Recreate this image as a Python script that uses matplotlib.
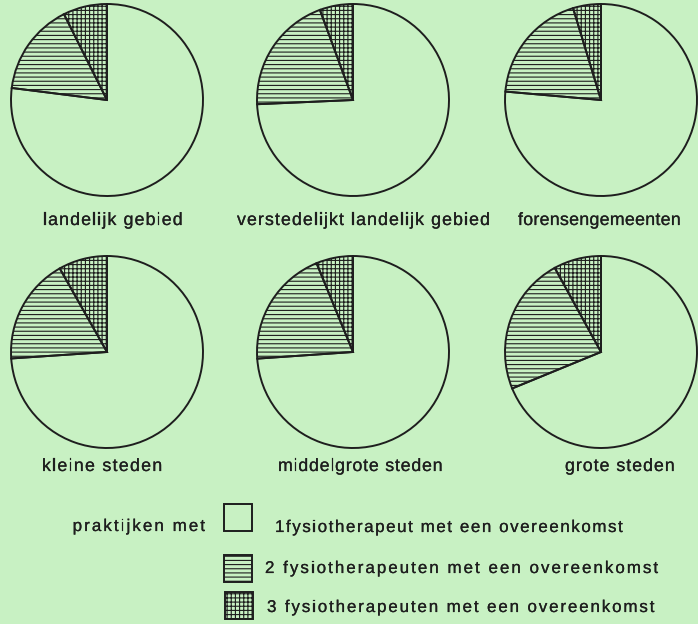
import matplotlib.pyplot as plt
import matplotlib.patheffects as pe
from matplotlib.patches import Rectangle
from matplotlib import font_manager
from matplotlib.font_manager import FontProperties
from matplotlib.ft2font import FT2Font

plt.rcParams['hatch.linewidth'] = 0.8
plt.rcParams['hatch.color'] = '#1e1e1e'

regios = ['landelijk gebied', 'verstedelijkt landelijk gebied', 'forensengemeenten',
          'kleine steden', 'middelgrote steden', 'grote steden']
# aandeel praktijken (%) naar aantal fysiotherapeuten met een overeenkomst
een_fysio = [77.0, 74.3, 76.4, 74.0, 73.9, 68.8]
twee_fysio = [15.6, 20.1, 18.9, 17.9, 19.9, 23.2]
drie_fysio = [7.4, 5.6, 4.7, 8.2, 6.2, 8.0]

legenda = ['1fysiotherapeut met een overeenkomst',
           '2 fysiotherapeuten met een overeenkomst',
           '3 fysiotherapeuten met een overeenkomst']

BG = '#c8f1c3'
INK = '#1e1e1e'
W, H = 698, 624
FONT = 'Liberation Sans'

fig = plt.figure(figsize=(W / 100, H / 100), dpi=100, facecolor=BG)

def px(x, y):
    return x / W, 1 - y / H

_ft = FT2Font(font_manager.findfont(FontProperties(family=FONT)))
# iets zwaardere letter
_dik = [pe.withStroke(linewidth=0.15, foreground=INK)]

def spaced(x, y, s, size, track, ha='left'):
    # letters een voor een zetten, met extra ruimte ertussen
    _ft.set_size(size, 100)
    adv = [_ft.load_char(ord(c)).linearHoriAdvance / 65536 for c in s]
    total = sum(adv) + track * (len(s) - 1)
    if ha == 'right':
        x -= total
    elif ha == 'center':
        x -= total / 2
    for c, a in zip(s, adv):
        fig.text(*px(x, y), c, ha='left', va='baseline', fontsize=size,
                 family=FONT, color=INK, path_effects=_dik)
        x += a + track

# middelpunten van de cirkels en plaats van de onderschriften (pixels)
centra = [(107, 100), (353, 100), (601, 100), (107, 352), (353, 352), (601, 352)]
tekst_pos = [(43, 225), (237, 225), (518, 225), (42, 471), (278, 471), (565, 471)]
tekst_track = [1.15, 1.1, 0.3, 1.3, 0.8, 1.0]
R = 96

for i, naam in enumerate(regios):
    cx, cy = centra[i]
    x0, y0 = px(cx - 100, cy + 100)
    ax = fig.add_axes([x0, y0, 200 / W, 200 / H])
    ax.set_facecolor('none')
    wedges, _ = ax.pie([een_fysio[i], twee_fysio[i], drie_fysio[i]],
                       startangle=90, counterclock=False,
                       colors=['none', 'none', 'none'],
                       wedgeprops=dict(edgecolor=INK, linewidth=1.4))
    wedges[1].set_hatch('----')
    wedges[2].set_hatch('++++')
    lim = 100 / R
    ax.set_xlim(-lim, lim)
    ax.set_ylim(-lim, lim)
    ax.set_aspect('equal')
    ax.axis('off')
    tx, ty = tekst_pos[i]
    spaced(tx, ty, naam, 12.8, tekst_track[i])

# legenda
LEG_SIZE = 12.2
spaced(205, 531, 'praktijken met', LEG_SIZE, 2.1, ha='right')
hatches = [None, '----', '++++']
boxes = [(224, 504), (224, 555), (225, 592)]
text_x = [275, 265, 267]
text_y = [532, 573, 612]
text_track = [1.6, 2.05, 1.9]
for j, lab in enumerate(legenda):
    bx, by = boxes[j]
    box = Rectangle(px(bx, by + 27), 28 / W, 27 / H, transform=fig.transFigure,
                    facecolor='none', edgecolor=INK, linewidth=1.4, hatch=hatches[j])
    fig.add_artist(box)
    spaced(text_x[j], text_y[j], lab, LEG_SIZE, text_track[j])

fig.savefig('out.png', dpi=100, facecolor=BG)
